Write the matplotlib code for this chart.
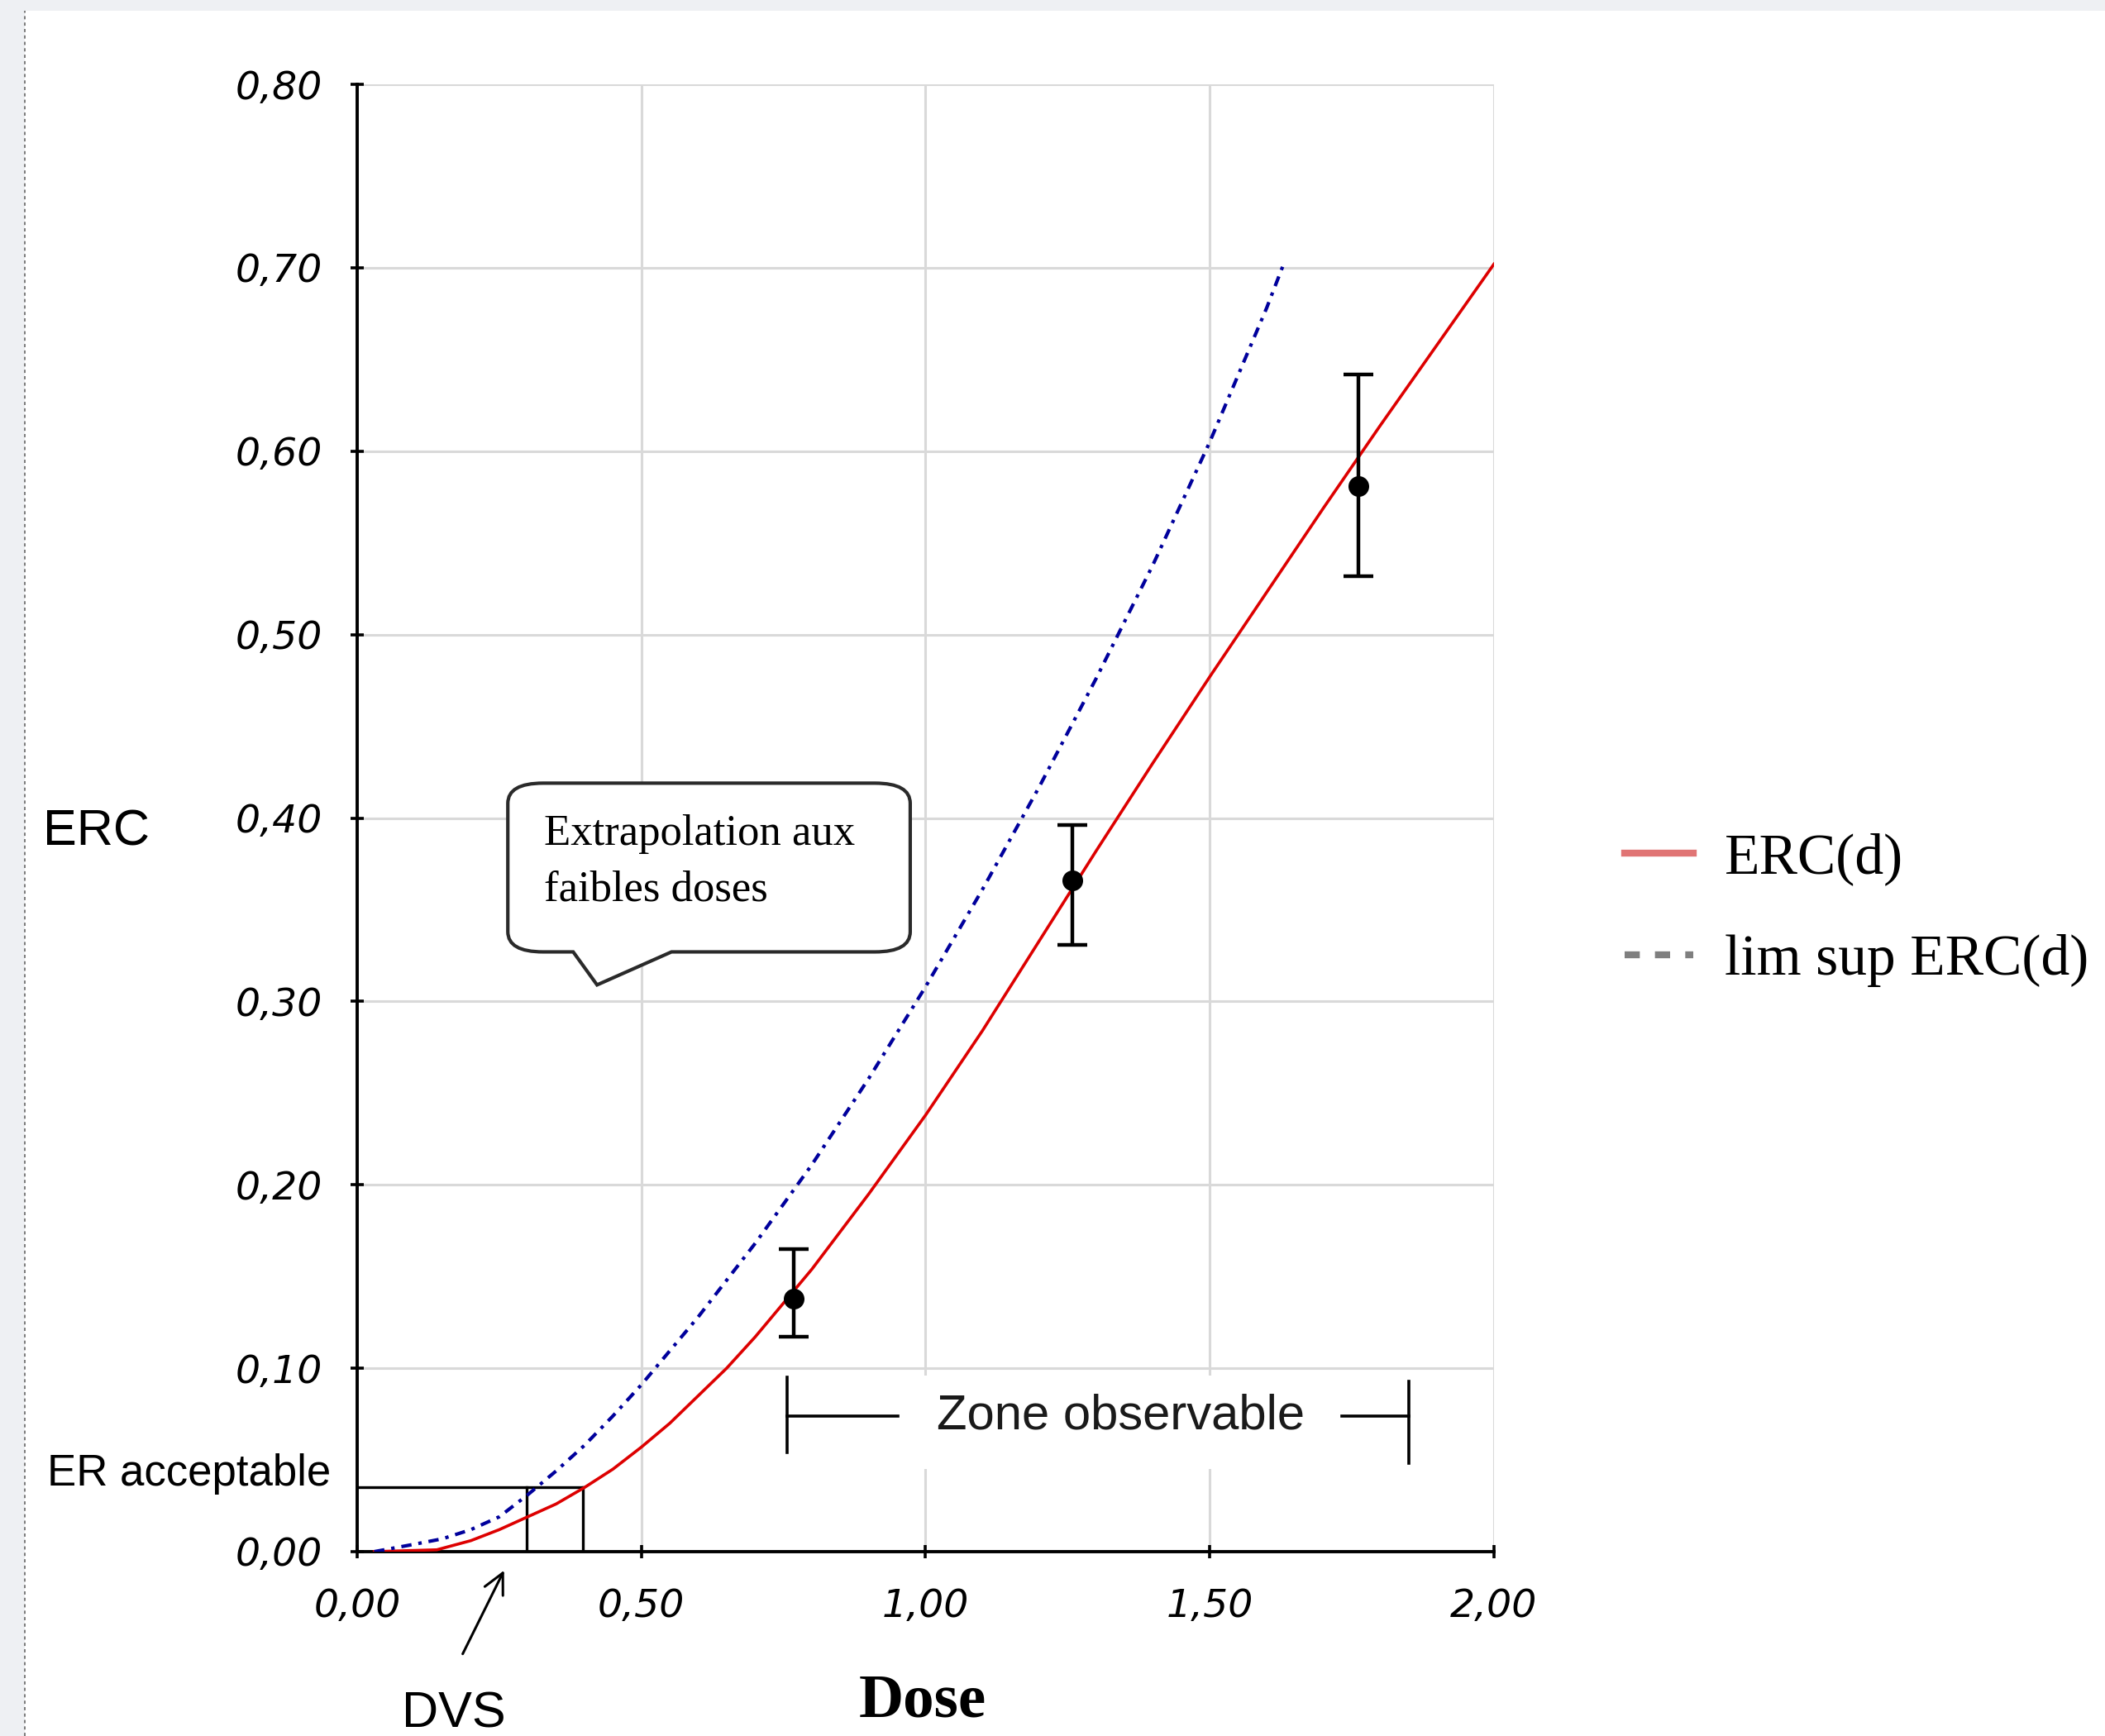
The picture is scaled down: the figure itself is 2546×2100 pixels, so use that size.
import matplotlib
matplotlib.use("Agg")
import matplotlib.pyplot as plt
from matplotlib.path import Path
from matplotlib.patches import PathPatch, Rectangle
from matplotlib.lines import Line2D
from matplotlib.ticker import FuncFormatter
from matplotlib import font_manager

# ---------------------------------------------------------------------------
# Values
# ---------------------------------------------------------------------------
erc_dose = [0.03, 0.14, 0.20, 0.25, 0.30, 0.35, 0.40, 0.45, 0.50, 0.55, 0.60,
            0.65, 0.70, 0.80, 0.90, 1.00, 1.10, 1.20, 1.30, 1.40, 1.50, 1.60,
            1.70, 1.80, 1.90, 2.00]
erc_value = [0.000, 0.001, 0.006, 0.012, 0.019, 0.026, 0.035, 0.045, 0.057,
             0.070, 0.085, 0.100, 0.117, 0.154, 0.195, 0.238, 0.284, 0.333,
             0.382, 0.430, 0.477, 0.523, 0.569, 0.614, 0.658, 0.702]

sup_dose = [0.03, 0.10, 0.15, 0.20, 0.25, 0.30, 0.35, 0.40, 0.45, 0.50, 0.60,
            0.70, 0.80, 0.90, 1.00, 1.10, 1.20, 1.30, 1.40, 1.50, 1.60, 1.63]
sup_value = [0.000, 0.004, 0.007, 0.012, 0.019, 0.031, 0.044, 0.058, 0.074,
             0.091, 0.128, 0.168, 0.211, 0.258, 0.308, 0.361, 0.417, 0.476,
             0.538, 0.605, 0.678, 0.702]

obs_dose = [0.768, 1.258, 1.762]
obs_erc = [0.138, 0.366, 0.581]
obs_err_low = [0.021, 0.035, 0.049]
obs_err_high = [0.027, 0.030, 0.061]

er_acceptable = 0.035
dvs_sup = 0.298      # dose where lim sup reaches ER acceptable
dvs_erc = 0.397      # dose where ERC reaches ER acceptable
zone_start, zone_end = 0.756, 1.850

x_ticks = [0.0, 0.5, 1.0, 1.5, 2.0]
y_ticks = [0.0, 0.1, 0.2, 0.3, 0.4, 0.5, 0.6, 0.7, 0.8]

# ---------------------------------------------------------------------------
names = {f.name for f in font_manager.fontManager.ttflist}
if "Liberation Sans Narrow" in names:
    tick_family, tick_size = "Liberation Sans Narrow", 21
else:
    tick_family, tick_size = "DejaVu Sans", 17
sans = ["Liberation Sans", "DejaVu Sans"]
serif = ["Liberation Serif", "DejaVu Serif"]

fig = plt.figure(figsize=(12.73, 10.5), dpi=200, facecolor="#eef0f3")
# white page with dotted left border (screenshot frame)
fig.patches.append(Rectangle((30 / 2546, 0), 1, 1 - 13 / 2100,
                             transform=fig.transFigure, facecolor="white",
                             edgecolor="none", zorder=-10))
fig.add_artist(Line2D([30 / 2546] * 2, [0, 1 - 13 / 2100],
                      transform=fig.transFigure, color="#7a7a7a",
                      lw=0.7, ls=(0, (2, 2))))

ax = fig.add_axes([0.1697, 0.1062, 0.5400, 0.8452])
ax.set_xlim(0, 2.0)
ax.set_ylim(0, 0.8)
ax.set_xticks(x_ticks)
ax.set_yticks(y_ticks)
fmt = FuncFormatter(lambda v, p: f"{v:.2f}".replace(".", ","))
ax.xaxis.set_major_formatter(fmt)
ax.yaxis.set_major_formatter(fmt)
for lab in ax.get_xticklabels() + ax.get_yticklabels():
    lab.set_family(tick_family)
    lab.set_style("italic")
    lab.set_fontsize(tick_size)
ax.tick_params(direction="inout", length=6, width=1.3, color="black")
ax.tick_params(axis="x", pad=13)
ax.tick_params(axis="y", pad=12)

ax.grid(True, color="#d9d9d9", lw=1.1)
ax.set_axisbelow(True)
for s in ["top", "right"]:
    ax.spines[s].set_visible(False)
for s in ["left", "bottom"]:
    ax.spines[s].set_linewidth(1.4)
    ax.spines[s].set_color("black")

# curves
ax.plot(erc_dose, erc_value, color="#dd0000", lw=1.3, zorder=4)
ax.plot(sup_dose, sup_value, color="#00009c", lw=1.5,
        ls=(0, (3, 2, 1, 2)), zorder=4)

# observed points with error bars
ax.errorbar(obs_dose, obs_erc, yerr=[obs_err_low, obs_err_high], fmt="o",
            color="black", ms=8, capsize=6.5, elinewidth=1.6, capthick=1.6,
            zorder=6)

# ER acceptable / DVS construction lines
ax.plot([0, dvs_erc], [er_acceptable, er_acceptable], color="black", lw=1.2, zorder=3)
ax.plot([dvs_sup, dvs_sup], [0, er_acceptable], color="black", lw=1.2, zorder=3)
ax.plot([dvs_erc, dvs_erc], [0, er_acceptable], color="black", lw=1.2, zorder=3)

# zone observable
ax.add_patch(Rectangle((0.70, 0.045), 1.20, 0.051, facecolor="white",
                       edgecolor="none", zorder=1.5))
zy, zb0, zb1 = 0.0738, 0.054, 0.094
ax.plot([zone_start, zone_start], [zb0, zb1 + 0.001], color="black", lw=1.3, zorder=3)
ax.plot([zone_start, 0.952], [zy, zy], color="black", lw=1.3, zorder=3)
ax.plot([1.732, zone_end], [zy, zy], color="black", lw=1.3, zorder=3)
ax.plot([zone_end, zone_end], [0.048, 0.093], color="black", lw=1.3, zorder=3)
ax.text(1.344, zy, "Zone observable", ha="center", va="center",
        family=sans, fontsize=21.5, color="#1a1a1a", zorder=3)

# callout "Extrapolation aux faibles doses"
x0, x1, y0, y1 = 0.265, 0.973, 0.327, 0.419
rx, ry = 0.062, 0.011
tl, tip, tr = 0.380, (0.422, 0.309), 0.553
verts = [(x0 + rx, y1), (x1 - rx, y1), (x1, y1), (x1, y1 - ry),
         (x1, y0 + ry), (x1, y0), (x1 - rx, y0), (tr, y0), tip, (tl, y0),
         (x0 + rx, y0), (x0, y0), (x0, y0 + ry), (x0, y1 - ry), (x0, y1),
         (x0 + rx, y1), (x0 + rx, y1)]
codes = [Path.MOVETO, Path.LINETO, Path.CURVE3, Path.CURVE3, Path.LINETO,
         Path.CURVE3, Path.CURVE3, Path.LINETO, Path.LINETO, Path.LINETO,
         Path.LINETO, Path.CURVE3, Path.CURVE3, Path.LINETO, Path.CURVE3,
         Path.CURVE3, Path.CLOSEPOLY]
ax.add_patch(PathPatch(Path(verts, codes), facecolor="white",
                       edgecolor="#2a2a2a", lw=1.5, zorder=2))
ax.text(0.328, 0.391, "Extrapolation aux", ha="left", va="center",
        family=serif, fontsize=19, zorder=3)
ax.text(0.328, 0.361, "faibles doses", ha="left", va="center",
        family=serif, fontsize=19, zorder=3)

# outer labels
ax.text(-0.553, 0.392, "ERC", ha="left", va="center", family=sans, fontsize=22)
ax.text(-0.545, 0.0425, "ER acceptable", ha="left", va="center",
        family=sans, fontsize=19)
ax.text(0.170, -0.0886, "DVS", ha="center", va="center", family=sans, fontsize=22)
ax.text(0.994, -0.082, "Dose", ha="center", va="center", family=serif,
        fontsize=27, fontweight="bold")
ax.annotate("", xy=(0.262, -0.008), xytext=(0.182, -0.058),
            xycoords="data", textcoords="data", annotation_clip=False,
            arrowprops=dict(arrowstyle="->", color="black", lw=1.1,
                            mutation_scale=22))

# legend
handles = [Line2D([], [], color="#e07474", lw=3.0),
           Line2D([], [], color="#7f7f7f", lw=3.0, ls=(0, (2.2, 2.2)))]
fig.legend(handles, ["ERC(d)", "lim sup ERC(d)"], loc="center left",
           bbox_to_anchor=(0.7717, 0.476), frameon=False,
           prop={"family": serif, "size": 25}, handlelength=1.2,
           handletextpad=0.55, labelspacing=0.85, borderpad=0,
           borderaxespad=0)

fig.savefig("out.png", dpi=200, facecolor=fig.get_facecolor())
